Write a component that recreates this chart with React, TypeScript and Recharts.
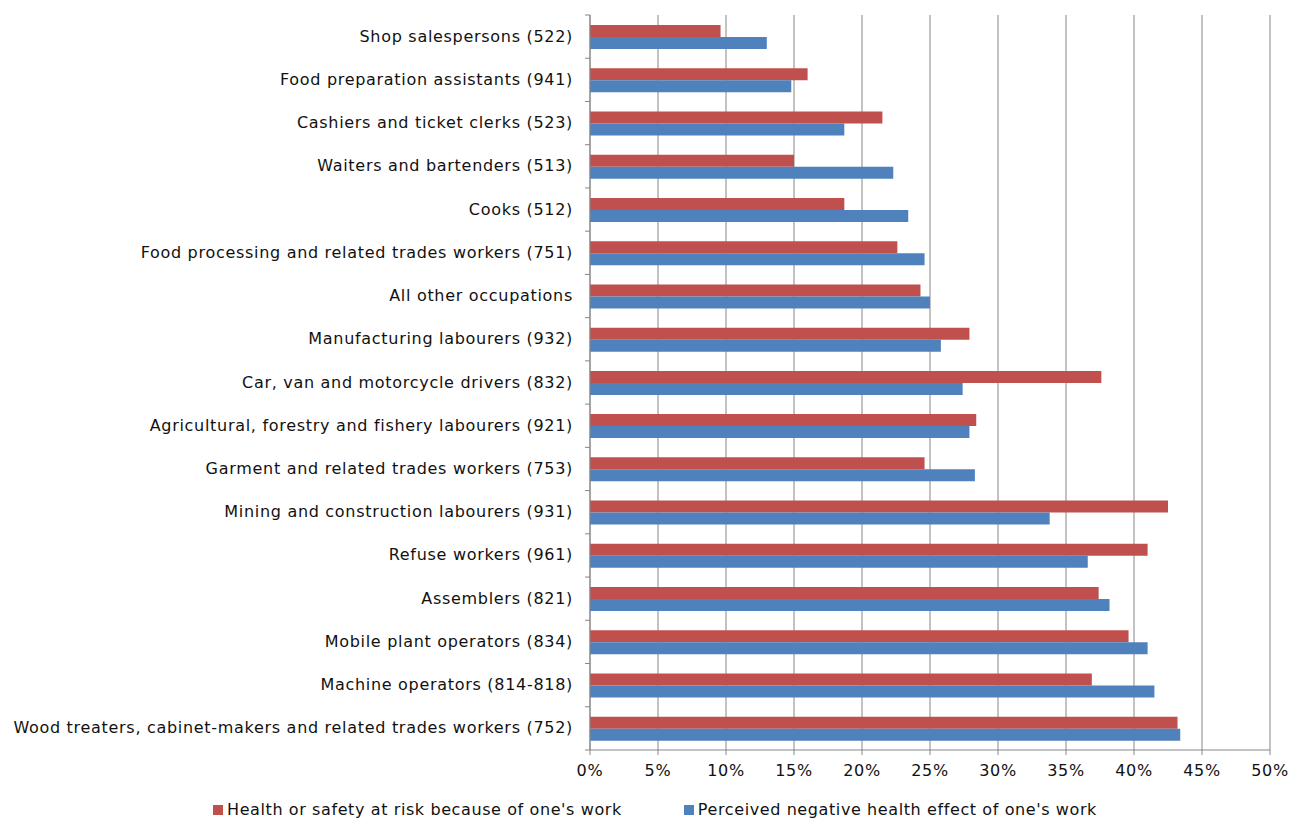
import React from "react";
import { BarChart, Bar, XAxis, YAxis, CartesianGrid, Legend } from "recharts";

const occupations = [
  "Shop salespersons (522)",
  "Food preparation assistants (941)",
  "Cashiers and ticket clerks (523)",
  "Waiters and bartenders (513)",
  "Cooks (512)",
  "Food processing and related trades workers (751)",
  "All other occupations",
  "Manufacturing labourers (932)",
  "Car, van and motorcycle drivers (832)",
  "Agricultural, forestry and fishery labourers (921)",
  "Garment and related trades workers (753)",
  "Mining and construction labourers (931)",
  "Refuse workers (961)",
  "Assemblers (821)",
  "Mobile plant operators (834)",
  "Machine operators (814-818)",
  "Wood treaters, cabinet-makers and related trades workers (752)",
];

const atRisk = [9.6, 16.0, 21.5, 15.0, 18.7, 22.6, 24.3, 27.9, 37.6, 28.4, 24.6, 42.5, 41.0, 37.4, 39.6, 36.9, 43.2];
const negativeEffect = [13.0, 14.8, 18.7, 22.3, 23.4, 24.6, 25.0, 25.8, 27.4, 27.9, 28.3, 33.8, 36.6, 38.2, 41.0, 41.5, 43.4];

const xTicks = [0, 5, 10, 15, 20, 25, 30, 35, 40, 45, 50];

const seriesNames = {
  atRisk: "Health or safety at risk because of one's work",
  negativeEffect: "Perceived negative health effect of one's work",
};

const RED = "#C0504D";
const BLUE = "#4F81BD";
const AXIS = "#868686";
const FONT = "'DejaVu Sans', Verdana, sans-serif";
const FS = 16;
const LS = 0.7;

const data = occupations.map((name, i) => ({
  name,
  atRisk: atRisk[i],
  negativeEffect: negativeEffect[i],
}));

const PLOT_TOP = 15;
const PLOT_BOTTOM = 750;
const BAND = (PLOT_BOTTOM - PLOT_TOP) / occupations.length;

const YTick = (props: any) => {
  const { y, payload, index } = props;
  return (
    <g>
      <line x1={585} x2={590} y1={y - BAND / 2} y2={y - BAND / 2} stroke={AXIS} />
      {index === occupations.length - 1 && (
        <line x1={585} x2={590} y1={y + BAND / 2} y2={y + BAND / 2} stroke={AXIS} />
      )}
      <text
        x={573}
        y={y}
        dy={5}
        textAnchor="end"
        fontSize={FS}
        letterSpacing={LS}
        fill="#111"
        fontFamily={FONT}
      >
        {payload.value}
      </text>
    </g>
  );
};

const XTick = (props: any) => {
  const { x, y, payload } = props;
  return (
    <text x={x} y={y} dy={19} textAnchor="middle" fontSize={FS} letterSpacing={LS} fill="#111" fontFamily={FONT}>
      {`${payload.value}%`}
    </text>
  );
};

const LegendContent = () => (
  <div
    style={{
      display: "flex",
      justifyContent: "center",
      gap: 62,
      marginLeft: 40,
      fontFamily: FONT,
      fontSize: FS,
      letterSpacing: 0.6,
      color: "#111",
    }}
  >
    {[
      { c: RED, t: seriesNames.atRisk },
      { c: BLUE, t: seriesNames.negativeEffect },
    ].map((it) => (
      <div key={it.t} style={{ display: "flex", alignItems: "center" }}>
        <span style={{ display: "inline-block", width: 10, height: 10, background: it.c, marginRight: 4 }} />
        <span>{it.t}</span>
      </div>
    ))}
  </div>
);

export default function App() {
  return (
    <div style={{ position: "absolute", left: 0, top: 0, width: 1292, height: 818, background: "#fff" }}>
      <BarChart
        width={1292}
        height={818}
        data={data}
        layout="vertical"
        margin={{ top: PLOT_TOP, right: 22, left: 0, bottom: 0 }}
        barCategoryGap={19}
        barGap={0}
      >
        <CartesianGrid horizontal={false} vertical={true} stroke={AXIS} strokeWidth={1} />
        <XAxis
          type="number"
          domain={[0, 50]}
          ticks={xTicks}
          axisLine={{ stroke: AXIS }}
          tickLine={{ stroke: AXIS }}
          tickSize={5}
          height={50}
          tick={<XTick />}
          interval={0}
        />
        <YAxis
          type="category"
          dataKey="name"
          width={590}
          axisLine={{ stroke: AXIS }}
          tickLine={false}
          tick={<YTick />}
          interval={0}
        />
        <Legend verticalAlign="bottom" height={18} content={<LegendContent />} />
        <Bar dataKey="atRisk" name={seriesNames.atRisk} fill={RED} barSize={12} isAnimationActive={false} />
        <Bar dataKey="negativeEffect" name={seriesNames.negativeEffect} fill={BLUE} barSize={12} isAnimationActive={false} />
      </BarChart>
    </div>
  );
}
